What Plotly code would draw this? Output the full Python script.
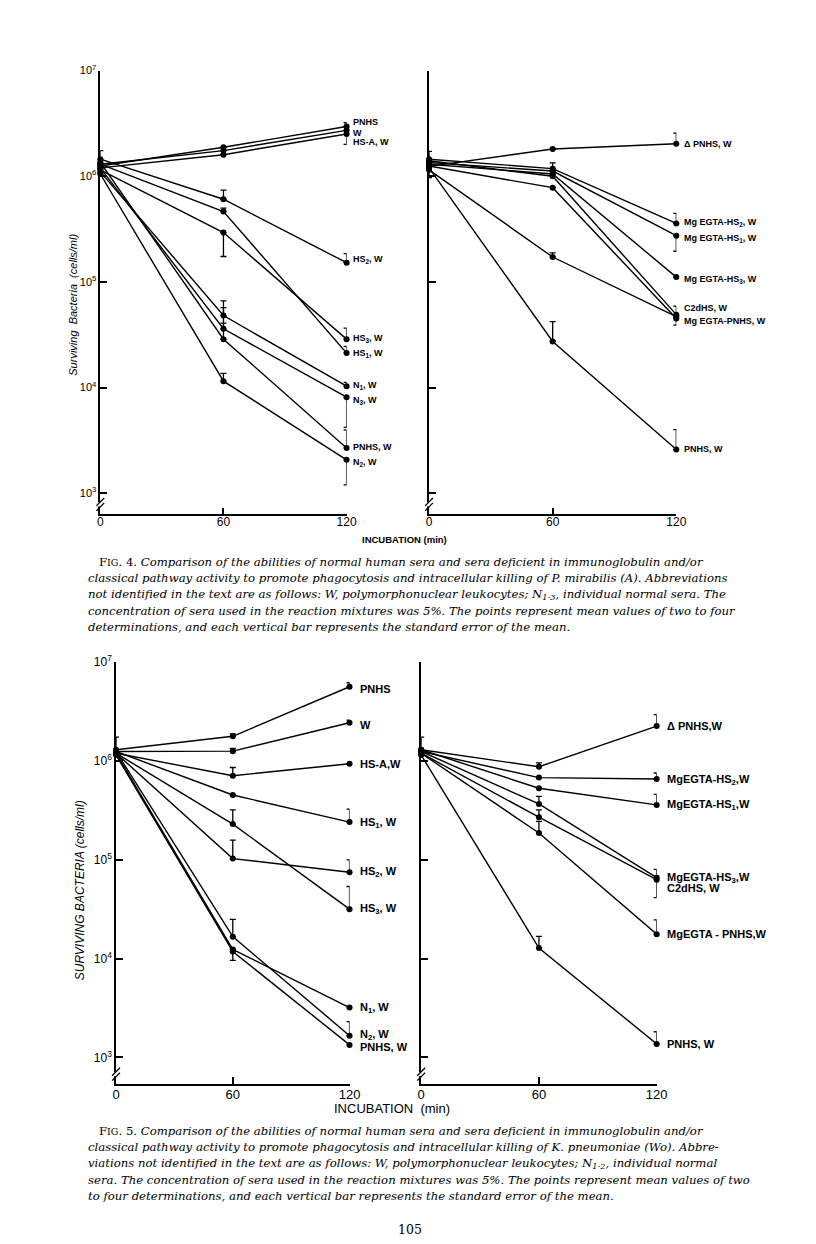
import plotly.graph_objects as go
import math

PAGE_W, PAGE_H = 816, 1244
BODY_MARGIN = 8
FIG_W, FIG_H = PAGE_W - 2 * BODY_MARGIN, PAGE_H - 2 * BODY_MARGIN
times = [0, 60, 120]

# ---------------- Fig 4 (P. mirabilis) left panel ----------------
f4l_names = ["PNHS", "W", "HS-A, W", "HS<sub>2</sub>, W", "HS<sub>3</sub>, W", "HS<sub>1</sub>, W",
             "N<sub>1</sub>, W", "N<sub>3</sub>, W", "PNHS, W", "N<sub>2</sub>, W"]
f4l_vals = [
    [1.25e6, 1.88e6, 2.96e6],
    [1.30e6, 1.75e6, 2.72e6],
    [1.20e6, 1.60e6, 2.51e6],
    [1.45e6, 6.06e5, 1.52e5],
    [1.15e6, 2.93e5, 2.87e4],
    [1.30e6, 4.64e5, 2.12e4],
    [1.10e6, 4.8e4, 1.03e4],
    [1.20e6, 3.6e4, 8.1e3],
    [1.35e6, 2.87e4, 2.68e3],
    [1.05e6, 1.15e4, 2.07e3],
]
f4l_err_up = [
    [0, 0, 2.5e5], [0, 0, 0], [0, 0, 0], [3.0e5, 1.34e5, 3.3e4], [0, 0, 7.8e3],
    [0, 3.6e4, 3.3e3], [0, 1.8e4, 9e2], [0, 2.1e4, 0], [0, 1.2e4, 1.3e3], [0, 2.1e3, 0],
]
f4l_err_dn = [
    [0, 0, 0], [0, 0, 0], [0, 0, 5.1e5], [0, 0, 0], [0, 1.19e5, 0],
    [0, 0, 0], [0, 0, 0], [0, 0, 3.9e3], [0, 0, 0], [0, 0, 8.7e2],
]

# ---------------- Fig 4 right panel ----------------
f4r_names = ["\u0394 PNHS, W", "Mg EGTA-HS<sub>2</sub>, W", "Mg EGTA-HS<sub>1</sub>, W",
             "Mg EGTA-HS<sub>3</sub>, W", "C2dHS, W", "Mg EGTA-PNHS, W", "", "PNHS, W"]
f4r_vals = [
    [1.24e6, 1.81e6, 2.03e6],
    [1.45e6, 1.18e6, 3.58e5],
    [1.35e6, 1.12e6, 2.74e5],
    [1.30e6, 1.05e6, 1.11e5],
    [1.40e6, 1.00e6, 4.9e4],
    [1.25e6, 7.8e5, 4.5e4],
    [1.15e6, 1.72e5, 4.7e4],
    [1.20e6, 2.73e4, 2.59e3],
]
f4r_err_up = [
    [0, 0, 5.3e5], [2.7e5, 1.6e5, 8.7e4], [0, 0, 0], [0, 0, 0],
    [0, 0, 1.0e4], [0, 0, 0], [0, 1.6e4, 0], [0, 1.47e4, 1.4e3],
]
f4r_err_dn = [
    [0, 0, 0], [4.8e5, 0, 0], [0, 0, 7.9e4], [0, 0, 0],
    [0, 0, 0], [0, 0, 6e3], [0, 0, 0], [0, 0, 0],
]

# ---------------- Fig 5 (K. pneumoniae) left panel ----------------
f5l_names = ["PNHS", "W", "HS-A,W", "HS<sub>1</sub>, W", "HS<sub>3</sub>, W", "HS<sub>2</sub>, W",
             "N<sub>2</sub>, W", "N<sub>1</sub>, W", "PNHS, W"]
f5l_vals = [
    [1.30e6, 1.78e6, 5.65e6],
    [1.25e6, 1.26e6, 2.44e6],
    [1.20e6, 7.1e5, 9.4e5],
    [1.25e6, 4.53e5, 2.41e5],
    [1.20e6, 2.3e5, 3.17e4],
    [1.20e6, 1.03e5, 7.5e4],
    [1.25e6, 1.67e4, 1.66e3],
    [1.20e6, 1.24e4, 3.2e3],
    [1.15e6, 1.18e4, 1.34e3],
]
f5l_err_up = [
    [4.5e5, 1.0e5, 5.5e5], [0, 8e4, 1.5e5], [0, 1.5e5, 0], [0, 0, 8.5e4], [0, 9e4, 2.2e4],
    [0, 5.5e4, 2.5e4], [0, 8.3e3, 6.4e2], [0, 0, 0], [0, 0, 0],
]
f5l_err_dn = [
    [0, 0, 0], [0, 0, 0], [0, 0, 0], [0, 0, 0], [0, 0, 0],
    [0, 0, 0], [0, 0, 0], [0, 2.8e3, 0], [0, 0, 0],
]

# ---------------- Fig 5 right panel ----------------
f5r_names = ["\u0394 PNHS,W", "MgEGTA-HS<sub>2</sub>,W", "MgEGTA-HS<sub>1</sub>,W",
             "MgEGTA-HS<sub>3</sub>,W", "C2dHS, W", "MgEGTA - PNHS,W", "PNHS, W"]
f5r_vals = [
    [1.30e6, 8.75e5, 2.26e6],
    [1.25e6, 6.8e5, 6.57e5],
    [1.30e6, 5.3e5, 3.6e5],
    [1.25e6, 3.68e5, 6.6e4],
    [1.20e6, 2.7e5, 6.3e4],
    [1.20e6, 1.87e5, 1.77e4],
    [1.15e6, 1.28e4, 1.37e3],
]
f5r_err_up = [
    [4.5e5, 8.5e4, 6.9e5], [0, 0, 1.0e5], [0, 0, 1.0e5], [0, 7e4, 1.4e4],
    [0, 5e4, 0], [0, 5.8e4, 7e3], [0, 4e3, 4.5e2],
]
f5r_err_dn = [
    [0, 0, 0], [0, 0, 0], [0, 0, 0], [0, 0, 0],
    [0, 0, 2.15e4], [0, 0, 0], [0, 0, 0],
]

ytick_vals = [1e3, 1e4, 1e5, 1e6, 1e7]
ytick_text = ["10<sup>3</sup>", "10<sup>4</sup>", "10<sup>5</sup>", "10<sup>6</sup>", "10<sup>7</sup>"]
xtick_vals = [0, 60, 120]
xtick_text = ["0", "60", "120"]

caption4 = [
    "F<span style='font-size:9.5px'>IG</span>. 4. <i>Comparison of the abilities of normal human sera and sera deficient in immunoglobulin and/or</i>",
    "<i>classical pathway activity to promote phagocytosis and intracellular killing of P. mirabilis (A). Abbreviations</i>",
    "<i>not identified in the text are as follows: W, polymorphonuclear leukocytes; N<sub>1-3</sub>, individual normal sera. The</i>",
    "<i>concentration of sera used in the reaction mixtures was 5%. The points represent mean values of two to four</i>",
    "<i>determinations, and each vertical bar represents the standard error of the mean.</i>",
]
caption5 = [
    "F<span style='font-size:9.5px'>IG</span>. 5. <i>Comparison of the abilities of normal human sera and sera deficient in immunoglobulin and/or</i>",
    "<i>classical pathway activity to promote phagocytosis and intracellular killing of K. pneumoniae (Wo). Abbre-</i>",
    "<i>viations not identified in the text are as follows: W, polymorphonuclear leukocytes; N<sub>1-2</sub>, individual normal</i>",
    "<i>sera. The concentration of sera used in the reaction mixtures was 5%. The points represent mean values of two</i>",
    "<i>to four determinations, and each vertical bar represents the standard error of the mean.</i>",
]


# ---------------- helpers: page pixel -> paper fraction ----------------
def px(x):
    return (x - BODY_MARGIN) / FIG_W


def py(y):
    return 1 - (y - BODY_MARGIN) / FIG_H


fig = go.Figure()

panels = [
    dict(key="", x0=98, x1=349, yt=62, yb=509, lo=2.80, ticklab=True, fs=11, xfs=12, xstand=-5),
    dict(key="2", x0=433, x1=685, yt=62, yb=509, lo=2.80, ticklab=False, fs=11, xfs=12, xstand=-5),
    dict(key="3", x0=114, x1=352, yt=658, yb=1083, lo=2.73, ticklab=True, fs=12, xfs=13, xstand=-3),
    dict(key="4", x0=425, x1=665, yt=658, yb=1083, lo=2.73, ticklab=False, fs=12, xfs=13, xstand=-3),
]

datasets = [
    (f4l_names, f4l_vals, f4l_err_up, f4l_err_dn),
    (f4r_names, f4r_vals, f4r_err_up, f4r_err_dn),
    (f5l_names, f5l_vals, f5l_err_up, f5l_err_dn),
    (f5r_names, f5r_vals, f5r_err_up, f5r_err_dn),
]

label_style = [
    dict(size=9, family="Liberation Sans Narrow, Arial Narrow, Liberation Sans, Arial", xshift=4,
         yshift=[4, -3, -8, 3, 1, 0, 1, -3, 1, -3]),
    dict(size=9, family="Liberation Sans Narrow, Arial Narrow, Liberation Sans, Arial", xshift=6,
         yshift=[0, 1, -3, -2, 7, -2, 0, 1]),
    dict(size=11, family="Liberation Sans, Arial", xshift=8,
         yshift=[-2, -2, 0, -1, 0, 0, 1, 0, -2]),
    dict(size=11, family="Liberation Sans, Arial", xshift=8,
         yshift=[0, -1, 0, 0, -8, 0, 0]),
]

annotations = []
shapes = []

for p, (names, vals, eu, ed), ls in zip(panels, datasets, label_style):
    k = p["key"]
    xa = "x" + k
    ya = "y" + k
    for i, (nm, v, u, d) in enumerate(zip(names, vals, eu, ed)):
        fig.add_trace(go.Scatter(
            x=times, y=v, xaxis=xa, yaxis=ya, mode="lines+markers",
            line=dict(color="black", width=1.4),
            marker=dict(color="black", size=6),
            error_y=dict(type="data", symmetric=False, array=u, arrayminus=d,
                         color="black", thickness=1.3, width=3),
            showlegend=False, cliponaxis=False, name=nm,
        ))
        if nm:
            annotations.append(dict(
                x=times[-1], y=math.log10(v[-1]), xref=xa, yref=ya, text="<b>%s</b>" % nm,
                showarrow=False, xanchor="left", yanchor="middle",
                xshift=ls["xshift"], yshift=ls["yshift"][i],
                font=dict(size=ls["size"], family=ls["family"], color="black"),
            ))
    axis_common = dict(showline=True, linecolor="black", linewidth=1.6, ticks="inside",
                       ticklen=7, tickwidth=1.6, tickcolor="black", showgrid=False,
                       zeroline=False)
    fig.update_layout(**{
        "xaxis" + k: dict(domain=[px(p["x0"]), px(p["x1"])], range=[0, 120],
                          anchor=ya, tickvals=xtick_vals, ticktext=xtick_text,
                          ticklabelstandoff=p["xstand"],
                          tickfont=dict(size=p["xfs"], family="Liberation Sans, Arial", color="black"),
                          **axis_common),
        "yaxis" + k: dict(domain=[py(p["yb"]), py(p["yt"])], type="log", range=[p["lo"], 7.0],
                          anchor=xa, tickvals=ytick_vals, ticktext=ytick_text,
                          showticklabels=p["ticklab"],
                          tickfont=dict(size=p["fs"], family="Liberation Sans, Arial", color="black"),
                          **axis_common),
    })
    # axis break marks on the y axis
    bx = p["x0"]
    by = p["yb"] - 10
    shapes.append(dict(type="rect", xref="paper", yref="paper", x0=px(bx - 3), x1=px(bx + 3),
                       y0=py(by + 2), y1=py(by - 2), fillcolor="white", line=dict(width=0),
                       layer="above"))
    for dy in (-2.5, 2.5):
        shapes.append(dict(type="line", xref="paper", yref="paper",
                           x0=px(bx - 4), y0=py(by + dy + 4), x1=px(bx + 4), y1=py(by + dy - 4),
                           line=dict(color="black", width=1.3), layer="above"))


def page_text(x, y, text, font, angle=0, xanchor="center"):
    annotations.append(dict(x=px(x), y=py(y), xref="paper", yref="paper", text=text,
                            showarrow=False, textangle=angle, xanchor=xanchor, yanchor="middle",
                            font=font))


# axis titles
page_text(70, 298, "<i>Surviving  Bacteria  (cells/ml)</i>",
          dict(size=11, family="Liberation Sans, Arial", color="black"), angle=-90)
page_text(408, 534, "<b>INCUBATION (min)</b>",
          dict(size=9.5, family="Liberation Sans Narrow, Arial Narrow, Liberation Sans", color="black"))
page_text(77, 888, "<i>SURVIVING BACTERIA (cells/ml)</i>",
          dict(size=12, family="Liberation Sans, Arial", color="black"), angle=-90)
page_text(395, 1108, "INCUBATION  (min)",
          dict(size=13, family="Liberation Sans, Arial", color="black"))

# captions
cap_font = dict(size=11.7, family="DejaVu Serif", color="black")
for j, line in enumerate(caption4):
    page_text(95 if j == 0 else 83, 557 + j * 16.3, line, cap_font, xanchor="left")
for j, line in enumerate(caption5):
    page_text(95 if j == 0 else 83, 1130 + j * 16.5, line, cap_font, xanchor="left")

page_text(414, 1229, "105", dict(size=12.5, family="DejaVu Serif", color="black"))

fig.update_layout(width=FIG_W, height=FIG_H, margin=dict(l=0, r=0, t=0, b=0),
                  paper_bgcolor="white", plot_bgcolor="white",
                  annotations=annotations, shapes=shapes, showlegend=False)

fig.write_html("out.html")
